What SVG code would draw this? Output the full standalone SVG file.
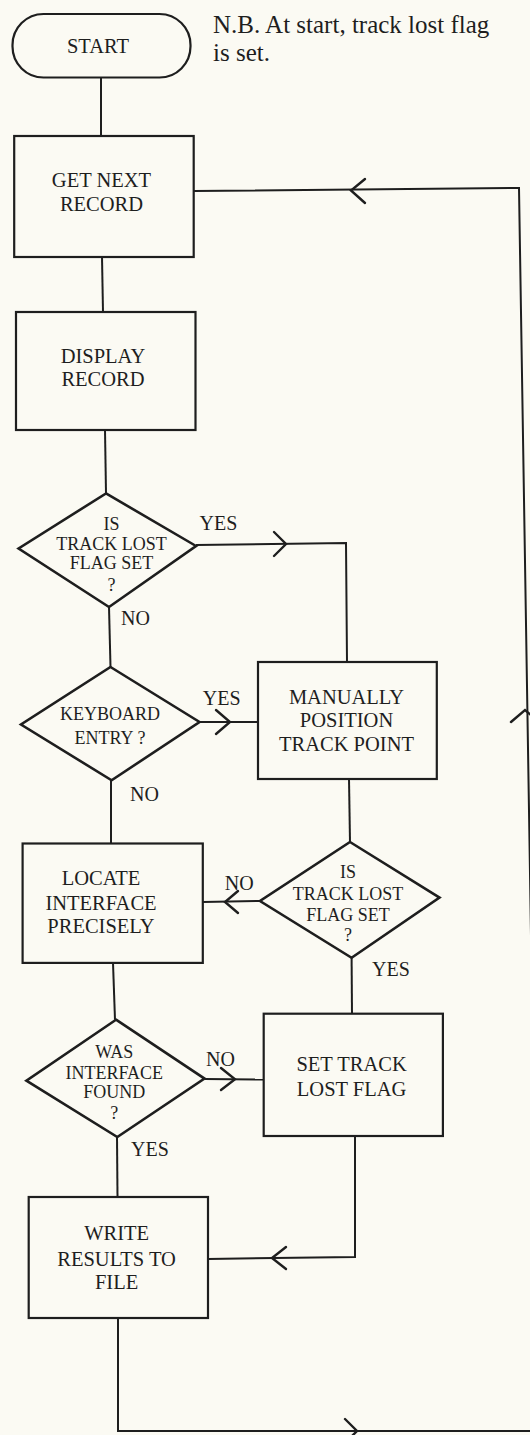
<svg xmlns="http://www.w3.org/2000/svg" width="530" height="1435" viewBox="0 0 530 1435">
<style>
.bg{fill:#fbfaf3}
.shape{fill:none;stroke:#1e1e1e;stroke-width:2.2;stroke-linejoin:miter}
.dia{fill:none;stroke:#1e1e1e;stroke-width:2.6;stroke-linejoin:miter}
.con{fill:none;stroke:#1e1e1e;stroke-width:2}
.arr{fill:none;stroke:#1e1e1e;stroke-width:2.4;stroke-linecap:round}
text{font-family:"Liberation Serif","Times New Roman",serif;fill:#1e1e1e;text-anchor:middle}
.bt{font-size:20.5px}
.dt{font-size:18px}
.lb{font-size:20px;text-anchor:start}
.note{font-size:25px;text-anchor:start}
</style>
<rect class="bg" x="0" y="0" width="530" height="1435"/>

<g id="connectors">
  <line class="con" x1="101" y1="78" x2="101" y2="136"/>
  <line class="con" x1="102" y1="257" x2="103" y2="312"/>
  <line class="con" x1="105" y1="430" x2="106" y2="493"/>
  <polyline class="con" points="196,545 346,543 347,662"/>
  <path class="arr" d="M274,532 L286,544 L274,556"/>
  <line class="con" x1="109" y1="607" x2="110.5" y2="667"/>
  <line class="con" x1="199.5" y1="722" x2="258" y2="722"/>
  <path class="arr" d="M216,710 L230,722 L216,734"/>
  <line class="con" x1="111" y1="780" x2="111" y2="843.5"/>
  <line class="con" x1="349" y1="779" x2="350" y2="842"/>
  <line class="con" x1="260" y1="901" x2="203" y2="902"/>
  <path class="arr" d="M238,891 L225,902 L238,913"/>
  <line class="con" x1="351.6" y1="958" x2="352" y2="1013.7"/>
  <line class="con" x1="113" y1="963" x2="115" y2="1019.7"/>
  <line class="con" x1="204.5" y1="1079" x2="264" y2="1079.5"/>
  <path class="arr" d="M221,1068 L235,1079.3 L221,1090"/>
  <line class="con" x1="117" y1="1137" x2="117.5" y2="1197"/>
  <polyline class="con" points="355,1136 355,1257 208,1259"/>
  <path class="arr" d="M286,1247 L272,1258 L286,1269"/>
  <polyline class="con" points="118,1318 118,1431 531,1431"/>
  <path class="arr" d="M345,1419 L357,1431 L345,1443"/>
  <polyline class="con" points="533,1060 519,188 194,191"/>
  <path class="arr" d="M511,722 L525,710 L539,722"/>
  <path class="arr" d="M365,179 L351,190.5 L365,203"/>
</g>

<g id="start">
  <rect class="shape" x="12.5" y="14" width="178" height="63.5" rx="31" ry="31"/>
  <text class="bt" x="98" y="52.5" font-size="21">START</text>
</g>

<g id="note">
  <text class="note" x="213" y="33">N.B. At start, track lost flag</text>
  <text class="note" x="213" y="61">is set.</text>
</g>

<g id="get-next-record">
  <rect class="shape" x="14.2" y="136" width="179.5" height="121"/>
  <text class="bt" x="101.5" y="187">GET NEXT</text>
  <text class="bt" x="101.5" y="211">RECORD</text>
</g>

<g id="display-record">
  <rect class="shape" x="16" y="312" width="179.5" height="118"/>
  <text class="bt" x="103" y="362.5">DISPLAY</text>
  <text class="bt" x="103" y="386">RECORD</text>
</g>

<g id="is-track-lost-1">
  <polygon class="dia" points="106,493.4 196,546 109,607 18.6,548.5"/>
  <text class="dt" x="111.5" y="530">IS</text>
  <text class="dt" x="111.5" y="549.5">TRACK LOST</text>
  <text class="dt" x="111.5" y="569">FLAG SET</text>
  <text class="dt" x="111.5" y="591">?</text>
  <text class="lb" x="199.5" y="530">YES</text>
  <text class="lb" x="121" y="624.5">NO</text>
</g>

<g id="keyboard-entry">
  <polygon class="dia" points="110.5,667 199.5,722 111.6,780.3 21,724.5"/>
  <text class="dt" x="110" y="720">KEYBOARD</text>
  <text class="dt" x="110" y="744">ENTRY ?</text>
  <text class="lb" x="202.8" y="705">YES</text>
  <text class="lb" x="130" y="801">NO</text>
</g>

<g id="manually-position">
  <rect class="shape" x="258" y="662" width="178.8" height="117"/>
  <text class="bt" x="346.5" y="703.6">MANUALLY</text>
  <text class="bt" x="346.5" y="727.2">POSITION</text>
  <text class="bt" x="346.5" y="751">TRACK POINT</text>
</g>

<g id="is-track-lost-2">
  <polygon class="dia" points="350,842 439.5,897.6 351.6,957.8 260,901"/>
  <text class="dt" x="348" y="878">IS</text>
  <text class="dt" x="348" y="900">TRACK LOST</text>
  <text class="dt" x="348" y="920.6">FLAG SET</text>
  <text class="dt" x="348" y="941">?</text>
  <text class="lb" x="224.8" y="890">NO</text>
  <text class="lb" x="372" y="976.4">YES</text>
</g>

<g id="locate-interface">
  <rect class="shape" x="22.6" y="843.5" width="180.2" height="119.4"/>
  <text class="bt" x="101" y="885">LOCATE</text>
  <text class="bt" x="101" y="909.8">INTERFACE</text>
  <text class="bt" x="101" y="933.4">PRECISELY</text>
</g>

<g id="was-interface-found">
  <polygon class="dia" points="116,1019.7 204.5,1078.6 117.3,1137 26.4,1080.6"/>
  <text class="dt" x="114.3" y="1057.6">WAS</text>
  <text class="dt" x="114.3" y="1078.6">INTERFACE</text>
  <text class="dt" x="114.3" y="1098.2">FOUND</text>
  <text class="dt" x="114.3" y="1118.5">?</text>
  <text class="lb" x="206" y="1066">NO</text>
  <text class="lb" x="131" y="1155.7">YES</text>
</g>

<g id="set-track-lost">
  <rect class="shape" x="263.7" y="1013.7" width="179.2" height="122.3"/>
  <text class="bt" x="351.6" y="1071">SET TRACK</text>
  <text class="bt" x="351.6" y="1095.5">LOST FLAG</text>
</g>

<g id="write-results">
  <rect class="shape" x="28.7" y="1197" width="179.3" height="121"/>
  <text class="bt" x="116.6" y="1240">WRITE</text>
  <text class="bt" x="116.6" y="1265.5">RESULTS TO</text>
  <text class="bt" x="116.6" y="1289">FILE</text>
</g>
</svg>
